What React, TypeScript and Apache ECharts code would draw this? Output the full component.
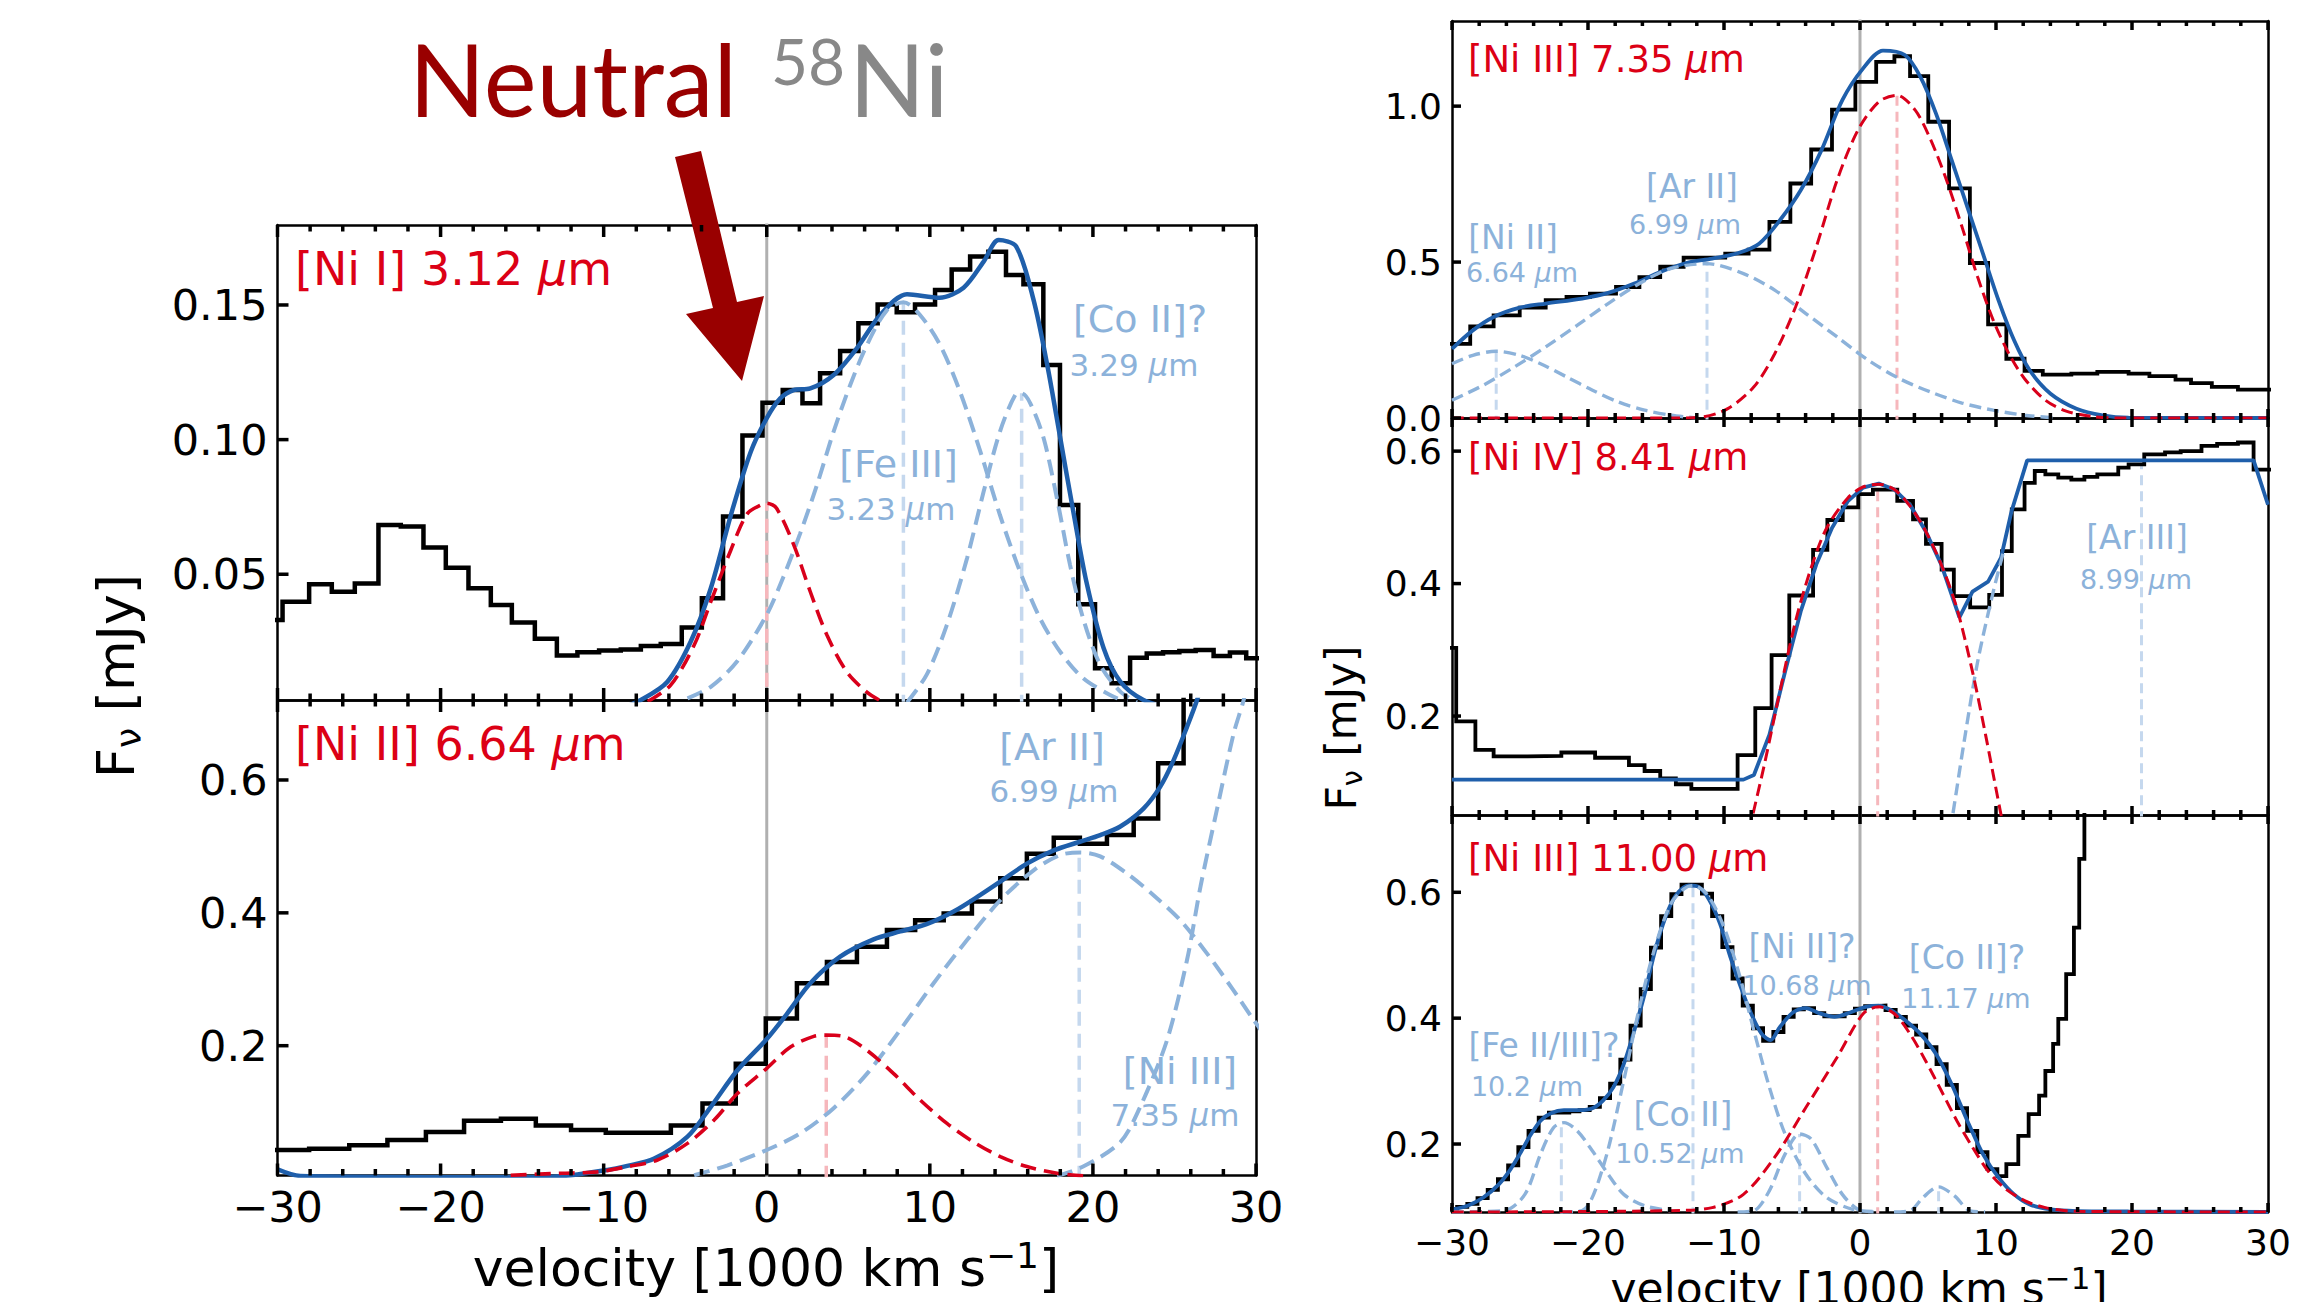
import React, { useEffect, useRef } from "react";
import * as echarts from "echarts";

const FONT = "DejaVu Sans";

// ---------- x axis ----------
const X_MIN = -30;
const X_MAX = 30;
const X_STEP = 10;
const X_TICKS = [-30, -28, -26, -24, -22, -20, -18, -16, -14, -12, -10, -8, -6, -4, -2, 0, 2, 4, 6, 8, 10, 12, 14, 16, 18, 20, 22, 24, 26, 28, 30];
const X_TICK_MAJOR = [1, 0, 0, 0, 0, 1, 0, 0, 0, 0, 1, 0, 0, 0, 0, 1, 0, 0, 0, 0, 1, 0, 0, 0, 0, 1, 0, 0, 0, 0, 1];

// ---------- Top-left: [Ni I] 3.12 um ----------
const TL_EDGES = [-31, -29.69, -28.06, -26.67, -25.26, -23.81, -22.44, -21.05, -19.68, -18.29, -16.92, -15.63, -14.22, -12.87, -11.61, -10.28, -8.95, -7.72, -6.5, -5.21, -3.98, -2.68, -1.49, -0.26, 0.98, 2.19, 3.27, 4.5, 5.62, 6.8, 7.97, 9.09, 10.32, 11.34, 12.47, 13.59, 14.67, 15.74, 16.96, 17.98, 19.1, 20.13, 21.15, 22.28, 23.3, 24.3, 25.3, 26.3, 27.4, 28.4, 29.4, 31];
const TL_FLUX = [0.033, 0.0398, 0.0463, 0.0435, 0.0466, 0.0683, 0.0677, 0.0599, 0.0524, 0.0448, 0.0386, 0.0321, 0.026, 0.0198, 0.021, 0.0217, 0.0221, 0.0234, 0.0241, 0.0302, 0.0411, 0.0714, 0.1015, 0.1137, 0.1184, 0.1135, 0.1246, 0.1329, 0.1432, 0.1502, 0.1473, 0.1502, 0.1556, 0.1632, 0.168, 0.1698, 0.1611, 0.1577, 0.1277, 0.0757, 0.0389, 0.0151, 0.0095, 0.019, 0.0206, 0.021, 0.0215, 0.0219, 0.0196, 0.0209, 0.0188];
const TL_FIT_X = [-9, -7.72, -6.09, -4.66, -3.43, -2.2, -0.98, 0.0, 0.83, 1.65, 2.67, 4.1, 5.53, 6.96, 8.6, 10.6, 12.07, 13.3, 14.22, 15.3, 16.36, 17.2, 18.0, 18.8, 19.6, 20.66, 21.68, 23.1, 25];
const TL_FIT_Y = [0.0, 0.0033, 0.0101, 0.025, 0.0448, 0.072, 0.0955, 0.108, 0.1153, 0.1184, 0.119, 0.124, 0.134, 0.1463, 0.154, 0.1527, 0.1564, 0.1661, 0.1741, 0.1717, 0.1519, 0.1277, 0.1005, 0.0732, 0.0472, 0.0225, 0.0101, 0.0033, 0.0];
const TL_NI_X = [-7.3, -5.88, -4.45, -3.43, -2.2, -1.18, -0.27, 0.0, 0.6, 1.65, 2.67, 3.69, 4.9, 6.1, 7.05];
const TL_NI_Y = [0.0027, 0.0089, 0.0237, 0.0398, 0.059, 0.0726, 0.076, 0.0764, 0.0745, 0.061, 0.0435, 0.0274, 0.0138, 0.0064, 0.0027];
const TL_FE_X = [-4.86, -3.43, -1.8, 0.0, 1.02, 2.04, 3.07, 4.1, 5.1, 6.13, 7.36, 8.38, 9.4, 10.63, 11.85, 13.1, 14.3, 15.53, 16.76, 17.98, 19.4, 21.05, 22.1];
const TL_FE_Y = [0.0039, 0.0082, 0.0178, 0.035, 0.049, 0.065, 0.083, 0.103, 0.12, 0.135, 0.148, 0.151, 0.1463, 0.1351, 0.1178, 0.0955, 0.072, 0.051, 0.0336, 0.0213, 0.0114, 0.0052, 0.0024];
const TL_CO_X = [8.6, 9.8, 11.04, 12.28, 13.3, 14.3, 15.24, 15.63, 16.16, 16.98, 17.8, 18.6, 19.4, 20.45, 21.68, 22.7];
const TL_CO_Y = [0.0024, 0.0126, 0.0311, 0.0559, 0.0807, 0.103, 0.1166, 0.1172, 0.1135, 0.1005, 0.078, 0.0534, 0.0336, 0.0163, 0.0064, 0.0024];
const TL_RED_LINE = [0, 0.0764];
const TL_BLUE_LINES_X = [8.38, 15.63];
const TL_BLUE_LINES_TOP = [0.151, 0.1172];
const TL_Y_TICKS = [0.05, 0.1, 0.15];

// ---------- Bottom-left: [Ni II] 6.64 um ----------
const BL_EDGES = [-31, -28.06, -25.6, -23.26, -20.9, -18.56, -16.3, -14.16, -12.0, -9.87, -7.93, -5.88, -3.94, -1.9, -0.06, 1.85, 3.69, 5.53, 7.37, 9.1, 10.85, 12.58, 14.32, 15.95, 17.6, 19.2, 20.86, 22.5, 24.0, 25.56, 31];
const BL_FLUX = [0.043, 0.045, 0.05, 0.058, 0.07, 0.087, 0.09, 0.08, 0.073, 0.069, 0.069, 0.08, 0.113, 0.173, 0.241, 0.294, 0.326, 0.349, 0.374, 0.389, 0.399, 0.417, 0.452, 0.489, 0.513, 0.504, 0.517, 0.542, 0.625, 0.85];
const BL_FIT_X = [-30, -28.6, -14, -12.0, -9.77, -8.75, -6.9, -4.86, -3.43, -1.8, 0.0, 1.24, 2.67, 4.5, 6.55, 8.19, 9.8, 11.46, 13.1, 14.32, 15.95, 17.6, 19.2, 20.45, 21.68, 23.1, 24.13, 24.95, 25.77, 26.38, 27.0];
const BL_FIT_Y = [0.014, 0.004, 0.002, 0.005, 0.013, 0.018, 0.03, 0.063, 0.108, 0.163, 0.21, 0.248, 0.294, 0.334, 0.36, 0.372, 0.383, 0.402, 0.427, 0.447, 0.474, 0.494, 0.507, 0.517, 0.53, 0.557, 0.59, 0.63, 0.68, 0.72, 0.77];
const BL_NI_X = [-15.7, -12.6, -10.4, -8.54, -6.7, -4.86, -3.23, -1.8, 0.0, 1.45, 2.88, 3.65, 4.72, 6.15, 7.78, 9.42, 11.05, 12.68, 14.32, 15.95, 17.8, 19.4];
const BL_NI_Y = [0.005, 0.008, 0.01, 0.018, 0.028, 0.053, 0.088, 0.128, 0.166, 0.198, 0.214, 0.216, 0.214, 0.193, 0.158, 0.118, 0.083, 0.055, 0.033, 0.018, 0.008, 0.004];
const BL_AR_X = [-4.45, -2.4, 0.0, 2.06, 4.1, 6.15, 8.19, 10.23, 12.28, 14.32, 16.36, 18.0, 19.23, 20.45, 22.1, 23.7, 25.35, 26.99, 28.6, 29.85, 31];
const BL_AR_Y = [0.005, 0.02, 0.043, 0.068, 0.106, 0.158, 0.224, 0.294, 0.359, 0.419, 0.464, 0.487, 0.491, 0.485, 0.459, 0.427, 0.389, 0.339, 0.284, 0.239, 0.2];
const BL_NI3_X = [17.8, 19.4, 21.68, 22.9, 24.54, 25.77, 26.6, 27.6, 28.63, 29.24, 29.8];
const BL_NI3_Y = [0.004, 0.018, 0.055, 0.108, 0.208, 0.329, 0.44, 0.555, 0.67, 0.72, 0.78];
const BL_RED_LINE = [3.65, 0.216];
const BL_BLUE_LINES_X = [19.16];
const BL_BLUE_LINES_TOP = [0.491];
const BL_Y_TICKS = [0.2, 0.4, 0.6];

// ---------- Top-right: [Ni III] 7.35 um ----------
const TR_EDGES = [-31, -28.66, -26.94, -25.02, -23.11, -21.58, -19.86, -17.94, -16.22, -14.69, -12.97, -11.44, -9.91, -8.19, -6.66, -5.12, -3.59, -2.06, -0.34, 1.19, 2.53, 3.68, 5.02, 6.55, 8.08, 9.42, 10.76, 12.1, 13.44, 15.54, 17.45, 19.75, 21.28, 23.2, 24.34, 25.87, 27.79, 31];
const TR_FLUX = [0.238, 0.294, 0.329, 0.354, 0.378, 0.388, 0.399, 0.42, 0.452, 0.485, 0.514, 0.514, 0.527, 0.54, 0.629, 0.752, 0.861, 0.989, 1.078, 1.142, 1.16, 1.096, 0.95, 0.736, 0.497, 0.3, 0.19, 0.151, 0.139, 0.142, 0.148, 0.142, 0.134, 0.123, 0.112, 0.1, 0.091];
const TR_FIT_X = [-30, -28.47, -26.94, -25.02, -23.11, -20.43, -18.52, -16.6, -14.69, -12.78, -10.87, -8.95, -7.42, -5.89, -4.36, -2.83, -1.3, 0.23, 1.69, 3.3, 4.44, 5.59, 6.74, 7.89, 9.04, 10.18, 11.33, 12.48, 14.01, 15.92, 17.84, 19.75, 30];
const TR_FIT_Y = [0.222, 0.281, 0.324, 0.354, 0.367, 0.383, 0.401, 0.431, 0.468, 0.497, 0.511, 0.529, 0.559, 0.634, 0.73, 0.859, 1.019, 1.121, 1.178, 1.164, 1.094, 0.976, 0.827, 0.677, 0.527, 0.378, 0.249, 0.153, 0.078, 0.03, 0.0085, 0.001, 0.0];
const TR_NI_X = [-30, -13.93, -11.63, -9.72, -7.8, -6.27, -4.74, -3.21, -1.68, -0.15, 1.38, 2.72, 4.06, 5.21, 6.36, 7.5, 8.65, 9.8, 10.95, 12.1, 13.63, 15.16, 17.07, 19.0, 30];
const TR_NI_Y = [0.0, 0.0, 0.003, 0.03, 0.1, 0.206, 0.356, 0.549, 0.763, 0.923, 1.014, 1.035, 0.987, 0.891, 0.763, 0.613, 0.452, 0.313, 0.206, 0.126, 0.057, 0.022, 0.005, 0.0, 0.0];
const TR_NI2_X = [-30, -28.47, -26.75, -25.02, -23.49, -21.58, -19.67, -17.75, -15.84, -13.93, -12.01];
const TR_NI2_Y = [0.174, 0.201, 0.214, 0.201, 0.174, 0.132, 0.089, 0.051, 0.025, 0.009, 0.0];
const TR_AR_X = [-30, -27.7, -25.4, -23.11, -20.8, -18.52, -16.22, -13.93, -11.25, -8.57, -6.27, -3.98, -1.68, 0.62, 2.91, 5.21, 7.5, 9.8, 12.1, 14.39];
const TR_AR_Y = [0.057, 0.105, 0.164, 0.228, 0.297, 0.367, 0.431, 0.479, 0.495, 0.463, 0.41, 0.335, 0.26, 0.185, 0.126, 0.083, 0.048, 0.025, 0.009, 0.0];
const TR_RED_LINE = [2.72, 1.035];
const TR_BLUE_LINES_X = [-26.75, -11.25];
const TR_BLUE_LINES_TOP = [0.214, 0.495];
const TR_Y_TICKS = [0.0, 0.5, 1.0];

// ---------- Middle-right: [Ni IV] 8.41 um ----------
const MR_EDGES = [-31, -29.69, -28.28, -26.94, -24.45, -21.96, -19.48, -16.99, -15.84, -14.69, -13.54, -12.4, -9.0, -7.7, -6.5, -5.2, -3.45, -2.4, -1.27, -0.13, 0.95, 2.74, 3.9, 4.85, 6.0, 6.9, 8.1, 9.5, 10.44, 11.16, 12.1, 12.85, 13.63, 14.58, 15.54, 16.5, 17.45, 18.99, 19.75, 20.9, 22.43, 23.58, 25.11, 26.26, 27.79, 28.94, 31];
const MR_FLUX = [0.303, 0.192, 0.149, 0.139, 0.14, 0.145, 0.137, 0.126, 0.117, 0.106, 0.097, 0.09, 0.141, 0.212, 0.292, 0.382, 0.451, 0.496, 0.515, 0.535, 0.542, 0.525, 0.497, 0.46, 0.421, 0.381, 0.364, 0.383, 0.449, 0.512, 0.552, 0.57, 0.565, 0.56, 0.557, 0.561, 0.565, 0.575, 0.58, 0.595, 0.598, 0.6, 0.608, 0.611, 0.613, 0.572];
const MR_FIT_X = [-30, -8.57, -7.8, -6.66, -5.51, -4.36, -3.21, -2.06, -0.91, 0.23, 1.38, 2.53, 3.68, 4.83, 5.97, 7.31, 8.27, 9.42, 10.37, 11.14, 12.29, 28.94, 30];
const MR_FIT_Y = [0.104, 0.104, 0.111, 0.172, 0.267, 0.358, 0.429, 0.484, 0.524, 0.545, 0.551, 0.542, 0.519, 0.479, 0.429, 0.349, 0.388, 0.403, 0.439, 0.509, 0.586, 0.586, 0.519];
const MR_NI_X = [-8.45, -7.88, -7.04, -5.89, -4.74, -3.59, -2.45, -0.91, 0.23, 1.38, 2.53, 3.68, 4.83, 5.97, 7.12, 8.27, 9.23, 10.37, 10.9];
const MR_NI_Y = [0.0, 0.051, 0.126, 0.237, 0.343, 0.424, 0.484, 0.529, 0.546, 0.55, 0.542, 0.517, 0.479, 0.429, 0.363, 0.267, 0.172, 0.051, 0.0];
const MR_AR_X = [6.4, 6.82, 7.7, 8.65, 9.8, 10.56];
const MR_AR_Y = [0.0, 0.051, 0.167, 0.282, 0.388, 0.449];
const MR_RED_LINE = [1.3, 0.55];
const MR_BLUE_LINES_X = [20.7];
const MR_BLUE_LINES_TOP = [0.582];
const MR_Y_TICKS = [0.2, 0.4, 0.6];

// ---------- Bottom-right: [Ni III] 11.00 um ----------
const BR_EDGES = [-31,
  -29.625, -28.875, -28.125, -27.375, -26.625, -25.875, -25.125, -24.375, -23.625, -22.875,
  -22.125, -21.375, -20.625, -19.875, -19.125, -18.375, -17.625, -16.875, -16.125, -15.375,
  -14.625, -13.875, -13.125, -12.375, -11.625, -10.875, -10.125, -9.375, -8.625, -7.875,
  -7.125, -6.375, -5.625, -4.875, -4.125, -3.375, -2.625, -1.875, -1.125, -0.375,
  0.375, 1.125, 1.875, 2.625, 3.375, 4.125, 4.875, 5.625, 6.375, 7.125,
  7.875, 8.625, 9.375,
  10.1, 10.76, 11.64, 12.4, 13.17, 13.63, 14.2, 14.58, 15.16, 15.73, 16.12, 16.5, 31];
const BR_FLUX = [
  0.097, 0.1, 0.105, 0.114, 0.127, 0.144, 0.166, 0.195, 0.221, 0.242,
  0.25, 0.25, 0.252, 0.254, 0.259, 0.273, 0.296, 0.334, 0.388, 0.446,
  0.512, 0.562, 0.597, 0.612, 0.612, 0.598, 0.562, 0.513, 0.463, 0.42,
  0.384, 0.364, 0.378, 0.402, 0.414, 0.416, 0.408, 0.403, 0.403, 0.408,
  0.415, 0.419, 0.42, 0.413, 0.402, 0.388, 0.374, 0.354, 0.327, 0.294,
  0.257, 0.221, 0.187, 0.16,
  0.149, 0.168, 0.213, 0.2475, 0.277, 0.316, 0.359, 0.399, 0.47, 0.544, 0.653, 0.9];
const BR_FIT_X = [-30, -28.85, -27.7, -26.56, -25.79, -25.02, -24.26, -23.49, -22.73, -21.77, -20.62, -19.67, -18.9, -18.14, -17.37, -16.6, -15.84, -15.07, -14.31, -13.54, -12.59, -11.82, -11.06, -10.29, -9.53, -8.76, -8.0, -7.23, -6.58, -5.89, -4.93, -3.98, -3.02, -1.87, -0.72, 0.42, 1.38, 2.34, 3.3, 4.44, 5.59, 6.74, 7.89, 9.04, 10.18, 11.33, 12.48, 14.01, 15.92, 19.75, 30];
const BR_FIT_Y = [0.096, 0.102, 0.115, 0.136, 0.157, 0.184, 0.213, 0.237, 0.249, 0.254, 0.254, 0.257, 0.269, 0.29, 0.327, 0.38, 0.438, 0.507, 0.56, 0.595, 0.611, 0.608, 0.587, 0.55, 0.497, 0.449, 0.407, 0.375, 0.365, 0.386, 0.409, 0.416, 0.408, 0.402, 0.409, 0.418, 0.42, 0.412, 0.397, 0.375, 0.343, 0.295, 0.237, 0.184, 0.147, 0.12, 0.104, 0.096, 0.0935, 0.093, 0.092];
const BR_NI_X = [-30, -13.93, -10.87, -8.57, -6.27, -3.98, -1.68, 0.23, 1.38, 2.53, 3.68, 4.83, 5.97, 7.12, 8.27, 9.42, 10.57, 12.1, 13.63, 15.92, 30];
const BR_NI_Y = [0.092, 0.094, 0.099, 0.12, 0.179, 0.258, 0.338, 0.407, 0.418, 0.407, 0.375, 0.332, 0.285, 0.237, 0.195, 0.157, 0.131, 0.11, 0.099, 0.093, 0.092];
const BR_FE_X = [-30, -26.17, -24.64, -23.49, -22.54, -21.77, -20.8, -19.67, -18.52, -17.37, -15.84, -13.93];
const BR_FE_Y = [0.092, 0.094, 0.12, 0.184, 0.226, 0.234, 0.221, 0.189, 0.152, 0.12, 0.102, 0.094];
const BR_CO_X = [-22, -20.43, -18.9, -17.37, -16.22, -15.07, -13.93, -12.97, -12.28, -11.25, -10.1, -8.95, -7.8, -6.66, -5.51, -3.98, -2.45, -0.53, 1.0];
const BR_CO_Y = [0.092, 0.094, 0.163, 0.301, 0.417, 0.513, 0.581, 0.605, 0.611, 0.597, 0.55, 0.475, 0.38, 0.29, 0.216, 0.152, 0.115, 0.096, 0.093];
const BR_NI2_X = [-9.0, -7.8, -6.66, -5.51, -4.44, -3.59, -2.45, -1.3, -0.15, 1.0];
const BR_NI2_Y = [0.092, 0.094, 0.126, 0.184, 0.216, 0.208, 0.163, 0.12, 0.096, 0.092];
const BR_CO2_X = [2.5, 3.68, 4.63, 5.78, 6.93, 8.08, 9.2];
const BR_CO2_Y = [0.092, 0.094, 0.115, 0.132, 0.118, 0.094, 0.092];
const BR_RED_LINE = [1.3, 0.418];
const BR_BLUE_LINES_X = [-21.96, -12.28, -4.44, 5.78];
const BR_BLUE_LINES_TOP = [0.234, 0.611, 0.216, 0.132];
const BR_Y_TICKS = [0.2, 0.4, 0.6];

// ---------- colours ----------
const C_BLUE = "#1f5fab";
const C_RED = "#d9001b";
const C_LBLUE = "#8cb2da";
const C_LBLUE_LINE = "#c5d8ee";
const C_LRED_LINE = "#f6b7bc";
const C_GRAY = "#b0b0b0";
const C_TEXT_RED = "#dc0015";
const C_DARK_RED = "#990000";
const C_TITLE_GRAY = "#888888";

type Comp = { x: number[]; y: number[] };
type Panel = {
  grid: { left: number; top: number; width: number; height: number };
  ymin: number; ymax: number; yticks: number[]; dec: number; xlabels: boolean; big: boolean;
  edges: number[]; flux: number[];
  fitX: number[]; fitY: number[]; fitSmooth: number | boolean;
  red: Comp; blues: Comp[];
  redLine: number[]; blueX: number[]; blueTop: number[];
};

const PANELS: Panel[] = [
  { grid: { left: 277.5, top: 225, width: 978.5, height: 475 }, ymin: 0.0033, ymax: 0.1797, yticks: TL_Y_TICKS, dec: 2, xlabels: false, big: true,
    edges: TL_EDGES, flux: TL_FLUX, fitX: TL_FIT_X, fitY: TL_FIT_Y, fitSmooth: 0.3,
    red: { x: TL_NI_X, y: TL_NI_Y }, blues: [{ x: TL_FE_X, y: TL_FE_Y }, { x: TL_CO_X, y: TL_CO_Y }],
    redLine: TL_RED_LINE, blueX: TL_BLUE_LINES_X, blueTop: TL_BLUE_LINES_TOP },
  { grid: { left: 277.5, top: 700, width: 978.5, height: 475.5 }, ymin: 0.0046, ymax: 0.7204, yticks: BL_Y_TICKS, dec: 1, xlabels: true, big: true,
    edges: BL_EDGES, flux: BL_FLUX, fitX: BL_FIT_X, fitY: BL_FIT_Y, fitSmooth: 0.3,
    red: { x: BL_NI_X, y: BL_NI_Y }, blues: [{ x: BL_AR_X, y: BL_AR_Y }, { x: BL_NI3_X, y: BL_NI3_Y }],
    redLine: BL_RED_LINE, blueX: BL_BLUE_LINES_X, blueTop: BL_BLUE_LINES_TOP },
  { grid: { left: 1452, top: 21, width: 816, height: 397 }, ymin: 0, ymax: 1.273, yticks: TR_Y_TICKS, dec: 1, xlabels: false, big: false,
    edges: TR_EDGES, flux: TR_FLUX, fitX: TR_FIT_X, fitY: TR_FIT_Y, fitSmooth: 0.3,
    red: { x: TR_NI_X, y: TR_NI_Y }, blues: [{ x: TR_NI2_X, y: TR_NI2_Y }, { x: TR_AR_X, y: TR_AR_Y }],
    redLine: TR_RED_LINE, blueX: TR_BLUE_LINES_X, blueTop: TR_BLUE_LINES_TOP },
  { grid: { left: 1452, top: 418, width: 816, height: 397 }, ymin: 0.0506, ymax: 0.65, yticks: MR_Y_TICKS, dec: 1, xlabels: false, big: false,
    edges: MR_EDGES, flux: MR_FLUX, fitX: MR_FIT_X, fitY: MR_FIT_Y, fitSmooth: false,
    red: { x: MR_NI_X, y: MR_NI_Y }, blues: [{ x: MR_AR_X, y: MR_AR_Y }],
    redLine: MR_RED_LINE, blueX: MR_BLUE_LINES_X, blueTop: MR_BLUE_LINES_TOP },
  { grid: { left: 1452, top: 815, width: 816, height: 397 }, ymin: 0.092, ymax: 0.7228, yticks: BR_Y_TICKS, dec: 1, xlabels: true, big: false,
    edges: BR_EDGES, flux: BR_FLUX, fitX: BR_FIT_X, fitY: BR_FIT_Y, fitSmooth: 0.3,
    red: { x: BR_NI_X, y: BR_NI_Y }, blues: [{ x: BR_FE_X, y: BR_FE_Y }, { x: BR_CO_X, y: BR_CO_Y }, { x: BR_NI2_X, y: BR_NI2_Y }, { x: BR_CO2_X, y: BR_CO2_Y }],
    redLine: BR_RED_LINE, blueX: BR_BLUE_LINES_X, blueTop: BR_BLUE_LINES_TOP },
];

// ---------- annotation texts ----------
const MAIN_LABELS = [
  { t: "[Ni I] 3.12 ", x: 295, y: 268.5, fs: 46 },
  { t: "[Ni II] 6.64 ", x: 295, y: 743.5, fs: 46 },
  { t: "[Ni III] 7.35 ", x: 1468, y: 59, fs: 37 },
  { t: "[Ni IV] 8.41 ", x: 1468, y: 457, fs: 37 },
  { t: "[Ni III] 11.00 ", x: 1468, y: 858, fs: 37 },
];
const LINE_LABELS = [
  { a: "[Fe III]", ax: 898.5, ay: 464, b: "3.23 ", bx: 891, by: 509, fa: 38, fb: 31 },
  { a: "[Co II]?", ax: 1140, ay: 319, b: "3.29 ", bx: 1134, by: 364.5, fa: 38, fb: 31 },
  { a: "[Ar II]", ax: 1052, ay: 747, b: "6.99 ", bx: 1054, by: 791, fa: 38, fb: 31 },
  { a: "[Ni III]", ax: 1180, ay: 1071, b: "7.35 ", bx: 1175, by: 1115, fa: 38, fb: 31 },
  { a: "[Ni II]", ax: 1513, ay: 237, b: "6.64 ", bx: 1522, by: 272, fa: 33, fb: 27 },
  { a: "[Ar II]", ax: 1692, ay: 186, b: "6.99 ", bx: 1685, by: 224, fa: 33, fb: 27 },
  { a: "[Ar III]", ax: 2137, ay: 537, b: "8.99 ", bx: 2136, by: 579, fa: 33, fb: 27 },
  { a: "[Fe II/III]?", ax: 1544, ay: 1045, b: "10.2 ", bx: 1527, by: 1086, fa: 33, fb: 27 },
  { a: "[Co II]", ax: 1683, ay: 1114, b: "10.52 ", bx: 1680, by: 1153, fa: 33, fb: 27 },
  { a: "[Ni II]?", ax: 1802, ay: 946, b: "10.68 ", bx: 1807, by: 985, fa: 33, fb: 27 },
  { a: "[Co II]?", ax: 1967, ay: 957, b: "11.17 ", bx: 1966, by: 998, fa: 33, fb: 27 },
];

const zip = (xs: number[], ys: number[]) => xs.map((x, i) => [x, ys[i]]);
const stepData = (edges: number[], vals: number[]) => {
  const d = vals.map((v, i) => [edges[i], v]);
  d.push([edges[edges.length - 1], vals[vals.length - 1]]);
  return d;
};

function textEl(x: number, y: number, text: string, rich: any, fs: number, fill: string, align: string, extra: any = {}, family: string = FONT) {
  return {
    type: "text", x, y, z: 100, silent: true, ...extra,
    style: { text, rich, fill, fontSize: fs, fontFamily: family, align, verticalAlign: "middle", textAlign: align, textVerticalAlign: "middle" },
  };
}

function muRich(fs: number, fill: string) {
  return {
    n: { fontSize: fs, fontFamily: FONT, fill },
    i: { fontSize: fs, fontFamily: FONT, fill, fontStyle: "italic" },
  };
}

function buildGraphics() {
  const graphics: any[] = [];
  // title
  graphics.push(textEl(409, 78, "Neutral", undefined, 100, C_DARK_RED, "left", {}, "Lato"));
  graphics.push(textEl(771, 60, "58", undefined, 64, C_TITLE_GRAY, "left", {}, "Lato"));
  graphics.push(textEl(849, 78, "Ni", undefined, 100, C_TITLE_GRAY, "left", {}, "Lato"));
  // arrow
  graphics.push({
    type: "polygon", z: 100, silent: true,
    shape: { points: [[675, 157], [701, 151], [737, 302], [764, 296], [742, 381], [686, 314], [713, 308]] },
    style: { fill: C_DARK_RED },
  });
  // panel labels
  MAIN_LABELS.forEach((l) => {
    graphics.push(textEl(l.x, l.y, `{n|${l.t}}{i|\u03bc}{n|m}`, muRich(l.fs, C_TEXT_RED), l.fs, C_TEXT_RED, "left"));
  });
  LINE_LABELS.forEach((l) => {
    graphics.push(textEl(l.ax, l.ay, l.a, undefined, l.fa, C_LBLUE, "center"));
    graphics.push(textEl(l.bx, l.by, `{n|${l.b}}{i|\u03bc}{n|m}`, muRich(l.fb, C_LBLUE), l.fb, C_LBLUE, "center"));
  });
  // axis titles
  const xTitle = (x: number, y: number, fs: number, sfs: number, lh: number) =>
    textEl(x, y, "{n|velocity [1000 km s}{s|\u22121}{n|]}", {
      n: { fontSize: fs, fontFamily: FONT, fill: "#000", lineHeight: lh },
      s: { fontSize: sfs, fontFamily: FONT, fill: "#000", verticalAlign: "top", lineHeight: sfs },
    }, fs, "#000", "center");
  graphics.push(xTitle(766, 1268, 52, 36, 61));
  graphics.push(xTitle(1859, 1288, 44, 31, 52));
  const yTitle = (x: number, y: number, fs: number, sfs: number, lh: number) =>
    textEl(x, y, "{n|F}{s|\u03bd}{n| [mJy]}", {
      n: { fontSize: fs, fontFamily: FONT, fill: "#000", lineHeight: lh },
      s: { fontSize: sfs, fontFamily: FONT, fill: "#000", verticalAlign: "bottom", lineHeight: sfs },
    }, fs, "#000", "center", { rotation: Math.PI / 2 });
  graphics.push(yTitle(116, 676, 52, 36, 61));
  graphics.push(yTitle(1341, 728, 42, 29, 50));
  return graphics;
}

// inward tick marks, placed through the chart's own axis scales (convertToPixel)
function tickGraphics(chart: any) {
  const out: any[] = [];
  PANELS.forEach((p, g) => {
    const tickLen = p.big ? 12 : 9;
    const minorLen = p.big ? 6.5 : 5;
    const yTickLen = p.big ? 11 : 9;
    const st = { stroke: "#000", lineWidth: 3.5 };
    X_TICKS.forEach((v, i) => {
      const len = X_TICK_MAJOR[i] ? tickLen : minorLen;
      const b = chart.convertToPixel({ gridIndex: g }, [v, p.ymin]);
      const t = chart.convertToPixel({ gridIndex: g }, [v, p.ymax]);
      if (!b || !t) return;
      out.push({ type: "line", z: 150, silent: true, shape: { x1: b[0], y1: b[1], x2: b[0], y2: b[1] - len }, style: st });
      out.push({ type: "line", z: 150, silent: true, shape: { x1: t[0], y1: t[1], x2: t[0], y2: t[1] + len }, style: st });
    });
    p.yticks.forEach((v) => {
      const c = chart.convertToPixel({ gridIndex: g }, [X_MIN, v]);
      if (!c) return;
      out.push({ type: "line", z: 150, silent: true, shape: { x1: c[0], y1: c[1], x2: c[0] + yTickLen, y2: c[1] }, style: st });
    });
  });
  return out;
}

function buildOption() {
  const grids: any[] = [];
  const xAxes: any[] = [];
  const yAxes: any[] = [];
  const series: any[] = [];

  PANELS.forEach((p, g) => {
    grids.push({ ...p.grid, containLabel: false, outerBoundsMode: "none", show: false });
    const fs = p.big ? 43 : 36;
    const mkLine = () => ({ show: true, onZero: false, lineStyle: { color: "#000", width: 2.5 } });
    const mkX = () => ({
      type: "value", gridIndex: g, min: X_MIN, max: X_MAX, interval: X_STEP,
      axisLine: mkLine(), axisTick: { show: false }, minorTick: { show: false },
      splitLine: { show: false }, minorSplitLine: { show: false },
    });
    xAxes.push({
      ...mkX(), position: "bottom",
      axisLabel: {
        show: p.xlabels, fontSize: fs, fontFamily: FONT, color: "#000", margin: p.big ? 10 : 12,
        showMinLabel: true, showMaxLabel: true,
        formatter: (v: number) => (v < 0 ? "\u2212" + Math.abs(v) : String(v)),
      },
    });
    xAxes.push({ ...mkX(), position: "top", axisLabel: { show: false } });
    yAxes.push({
      type: "value", gridIndex: g, position: "left", min: p.ymin, max: p.ymax,
      axisLine: mkLine(), axisTick: { show: false },
      axisLabel: {
        show: true, customValues: p.yticks, fontSize: fs, fontFamily: FONT, color: "#000", margin: 10,
        formatter: (v: number) => v.toFixed(p.dec),
      },
      splitLine: { show: false },
    });
    yAxes.push({
      type: "value", gridIndex: g, position: "right", min: p.ymin, max: p.ymax,
      axisLine: mkLine(), axisTick: { show: false }, axisLabel: { show: false }, splitLine: { show: false },
    });

    const base = {
      type: "line", xAxisIndex: 2 * g, yAxisIndex: 2 * g, symbol: "none", showSymbol: false,
      silent: true, clip: true, animation: false,
    };
    const compW = p.big ? 3.6 : 3;
    const dash = p.big ? [16, 8] : [12, 6];
    const vdash = p.big ? [14, 8] : [10, 6];
    // zero velocity line
    series.push({ ...base, data: [[0, p.ymin - 1], [0, p.ymax + 1]], lineStyle: { color: C_GRAY, width: 3 }, z: 1 });
    // centre lines
    p.blueX.forEach((c, i) => {
      series.push({ ...base, data: [[c, p.ymin - 1], [c, p.blueTop[i]]], lineStyle: { color: C_LBLUE_LINE, width: p.big ? 3.5 : 3, type: vdash }, z: 2 });
    });
    series.push({ ...base, data: [[p.redLine[0], p.ymin - 1], [p.redLine[0], p.redLine[1]]], lineStyle: { color: C_LRED_LINE, width: p.big ? 3.5 : 3, type: vdash }, z: 2 });
    // observed spectrum
    series.push({ ...base, data: stepData(p.edges, p.flux), step: "end", lineStyle: { color: "#000", width: p.big ? 4.5 : 3.8, join: "miter" }, z: 3 });
    // total fit
    series.push({ ...base, data: zip(p.fitX, p.fitY), smooth: p.fitSmooth, lineStyle: { color: C_BLUE, width: p.big ? 4.5 : 3.8 }, z: 4 });
    // other line components
    p.blues.forEach((c) => {
      series.push({ ...base, data: zip(c.x, c.y), smooth: 0.3, lineStyle: { color: C_LBLUE, width: compW + 0.4, type: dash }, z: 5 });
    });
    // nickel component
    series.push({ ...base, data: zip(p.red.x, p.red.y), smooth: 0.3, lineStyle: { color: C_RED, width: compW, type: dash }, z: 6 });
  });

  return {
    animation: false,
    backgroundColor: "#ffffff",
    grid: grids,
    xAxis: xAxes,
    yAxis: yAxes,
    series,
    graphic: { elements: buildGraphics() },
  };
}

export default function App() {
  const ref = useRef<HTMLDivElement>(null);
  useEffect(() => {
    document.body.style.margin = "0";
    document.body.style.overflow = "hidden";
    const chart = echarts.init(ref.current as HTMLDivElement, null, { renderer: "svg", width: 2324, height: 1302 });
    chart.setOption(buildOption() as any);
    const ticks = tickGraphics(chart);
    chart.setOption({ graphic: { elements: buildGraphics().concat(ticks) } } as any);
    return () => chart.dispose();
  }, []);
  return <div ref={ref} style={{ position: "absolute", left: 0, top: 0, width: 2324, height: 1302 }} />;
}
